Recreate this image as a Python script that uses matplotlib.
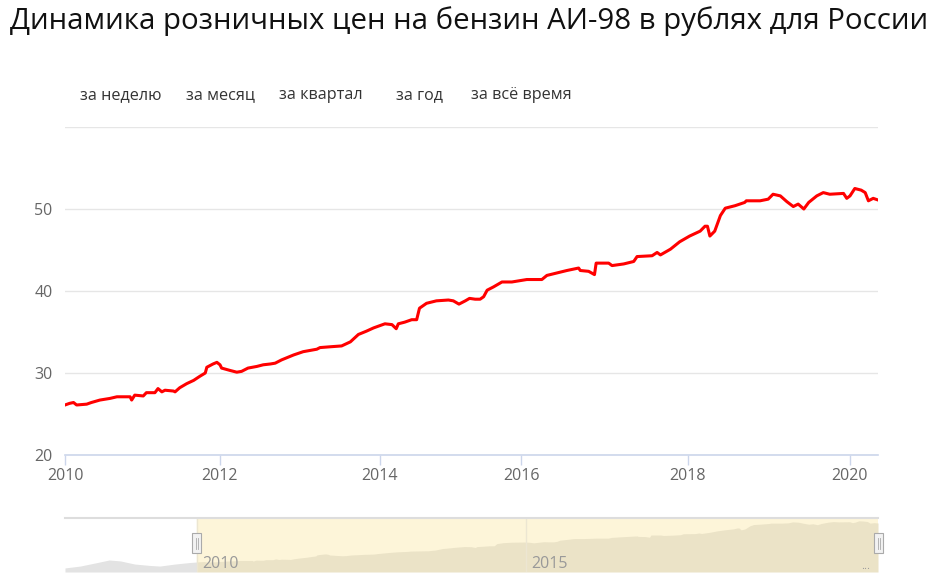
import numpy as np
import matplotlib.pyplot as plt
from matplotlib.patches import Rectangle
from matplotlib.lines import Line2D

# AI-98 retail price, RUB (decimal year, price)
years = [2010.00, 2010.06, 2010.11, 2010.15, 2010.28, 2010.34, 2010.45, 2010.58, 2010.67,
         2010.84, 2010.86, 2010.90, 2011.01, 2011.05, 2011.16, 2011.20, 2011.25, 2011.29,
         2011.40, 2011.42, 2011.48, 2011.57, 2011.66, 2011.74, 2011.81, 2011.83, 2011.91,
         2011.96, 2012.00, 2012.02, 2012.13, 2012.21, 2012.27, 2012.35, 2012.46, 2012.54,
         2012.63, 2012.69, 2012.77, 2012.92, 2013.04, 2013.21, 2013.25, 2013.38, 2013.52,
         2013.63, 2013.73, 2013.83, 2013.92, 2014.07, 2014.17, 2014.23, 2014.26, 2014.35,
         2014.45, 2014.52, 2014.56, 2014.66, 2014.80, 2014.97, 2015.04, 2015.12, 2015.21,
         2015.27, 2015.35, 2015.42, 2015.47, 2015.52, 2015.61, 2015.73, 2015.87, 2016.07,
         2016.25, 2016.31, 2016.43, 2016.55, 2016.69, 2016.71, 2016.81, 2016.88, 2016.90,
         2017.05, 2017.09, 2017.23, 2017.35, 2017.39, 2017.57, 2017.63, 2017.67, 2017.79,
         2017.90, 2018.02, 2018.15, 2018.21, 2018.24, 2018.27, 2018.33, 2018.40, 2018.46,
         2018.58, 2018.70, 2018.72, 2018.89, 2018.99, 2019.05, 2019.14, 2019.22, 2019.30,
         2019.36, 2019.43, 2019.49, 2019.59, 2019.67, 2019.75, 2019.92, 2019.96, 2020.00,
         2020.06, 2020.14, 2020.19, 2020.23, 2020.29, 2020.35]
prices = [26.1, 26.3, 26.4, 26.1, 26.2, 26.4, 26.7, 26.9, 27.1,
          27.1, 26.7, 27.3, 27.2, 27.6, 27.6, 28.1, 27.7, 27.9,
          27.8, 27.7, 28.2, 28.7, 29.1, 29.6, 30.0, 30.7, 31.1,
          31.3, 31.0, 30.6, 30.3, 30.1, 30.2, 30.6, 30.8, 31.0,
          31.1, 31.2, 31.6, 32.2, 32.6, 32.9, 33.1, 33.2, 33.3,
          33.8, 34.7, 35.1, 35.5, 36.0, 35.9, 35.4, 36.0, 36.2,
          36.5, 36.5, 37.9, 38.5, 38.8, 38.9, 38.8, 38.4, 38.8,
          39.1, 39.0, 39.0, 39.3, 40.1, 40.5, 41.1, 41.1, 41.4,
          41.4, 41.9, 42.2, 42.5, 42.8, 42.5, 42.4, 42.0, 43.4,
          43.4, 43.1, 43.3, 43.6, 44.2, 44.3, 44.7, 44.4, 45.1,
          46.0, 46.7, 47.3, 47.9, 47.9, 46.7, 47.3, 49.2, 50.1,
          50.4, 50.8, 51.0, 51.0, 51.2, 51.8, 51.6, 50.9, 50.3,
          50.6, 50.0, 50.8, 51.6, 52.0, 51.8, 51.9, 51.3, 51.6,
          52.5, 52.3, 52.0, 51.0, 51.3, 51.1]

# earlier history, visible only in the navigator
early_years = [2008.00, 2008.23, 2008.46, 2008.67, 2008.84, 2009.06, 2009.29, 2009.44, 2009.67, 2009.90]
early_prices = [22.3, 23.5, 25.5, 27.4, 26.8, 24.8, 23.9, 23.5, 24.8, 25.8]

y_ticks = [20, 30, 40, 50, 60]
y_labels = ["20", "30", "40", "50", ""]
x_tick_years = [2010, 2012, 2014, 2016, 2018, 2020]
buttons = ["за неделю", "за месяц", "за квартал", "за год", "за всё время"]
title = "Динамика розничных цен на бензин АИ-98 в рублях для России"

# ordinal x axis (Highstock style): where each year sits along the axis
ord_years = [2010, 2012, 2014, 2016, 2018, 2020, 2020.35]
ord_pos = [0, 155, 315, 456, 623, 785, 813]

W, H = 949, 581
FONT = "Open Sans"

fig = plt.figure(figsize=(W / 100, H / 100), dpi=100)

def fx(px):
    return px / W

def fy(py):
    return 1 - py / H

# ---- main chart
ax = fig.add_axes([fx(65), fy(455), fx(813), 328 / H])
xs = np.interp(years, ord_years, ord_pos)
ax.plot(xs, prices, color="#ff0000", linewidth=2.2, solid_joinstyle="round", zorder=3)
ax.set_xlim(0, 813)
ax.set_ylim(20, 60)
ax.set_yticks(y_ticks)
ax.set_yticklabels(y_labels)
ax.set_xticks(np.interp(x_tick_years, ord_years, ord_pos))
ax.set_xticklabels([str(y) for y in x_tick_years])
for s in ["top", "right", "left"]:
    ax.spines[s].set_visible(False)
ax.spines["bottom"].set_color("#ccd6eb")
ax.spines["bottom"].set_linewidth(1.2)
ax.grid(axis="y", color="#e6e6e6", linewidth=1.0)
ax.set_axisbelow(True)
ax.tick_params(axis="y", length=0, pad=9, labelsize=11.5, labelcolor="#666666")
ax.tick_params(axis="x", length=7, width=1, color="#ccd6eb", pad=2, labelsize=11.5, labelcolor="#666666")
for lab in ax.get_xticklabels() + ax.get_yticklabels():
    lab.set_family(FONT)

# ---- title and range buttons
fig.text(fx(10), fy(21), title, fontsize=21.2, family=FONT, color="#111111", ha="left", va="center")
btn_x = [80, 186, 279, 396, 471]
for bx, b in zip(btn_x, buttons):
    fig.text(fx(bx), fy(95), b, fontsize=11.6, family=FONT, color="#333333", ha="left", va="center")

# ---- navigator
nav = fig.add_axes([fx(65), fy(572), fx(813), 54 / H])
nav_years = early_years + years
nav_prices = early_prices + prices
nav.set_xlim(2008.0, 2020.35)
nav.set_ylim(19.7, 54.3)
sel_start = 2010.0
nav.axvspan(sel_start, 2020.35, color="#fdf5d9", zorder=0)
ny = np.array(nav_years)
npr = np.array(nav_prices)
nav.fill_between(ny, 19.7, npr, where=ny <= sel_start + 0.01, color="#e3e3e3", linewidth=0, zorder=1)
nav.fill_between(ny, 19.7, npr, where=ny >= sel_start, color="#ebe3c7", linewidth=0, zorder=1)
for gx in [2010, 2015]:
    nav.axvline(gx, color="#ece6d2", linewidth=1, zorder=2)
nav.set_xticks([])
nav.set_yticks([])
for s in ["right", "left", "bottom"]:
    nav.spines[s].set_visible(False)
nav.spines["top"].set_color("#dddddd")
nav.spines["top"].set_linewidth(1.5)
nav.text(2010.08, 24.6, "2010", fontsize=11.5, family=FONT, color="#999999", ha="left", va="center", zorder=4)
nav.text(2015.08, 24.6, "2015", fontsize=11.5, family=FONT, color="#999999", ha="left", va="center", zorder=4)
nav.text(2020.1, 23.5, "...", fontsize=8, family=FONT, color="#999999", ha="left", va="center", zorder=4)

# navigator handles
for hx in [192, 874]:
    fig.patches.append(Rectangle((fx(hx), fy(553)), fx(9), 20 / H, transform=fig.transFigure,
                                 facecolor="#f2f2f2", edgecolor="#aaaaaa", linewidth=0.8, zorder=5))
    for dx in [3.5, 5.5]:
        fig.lines.append(Line2D([fx(hx + dx)] * 2, [fy(549), fy(538)], transform=fig.transFigure,
                                color="#aaaaaa", linewidth=0.6, zorder=6))

fig.savefig("out.png", dpi=100)
